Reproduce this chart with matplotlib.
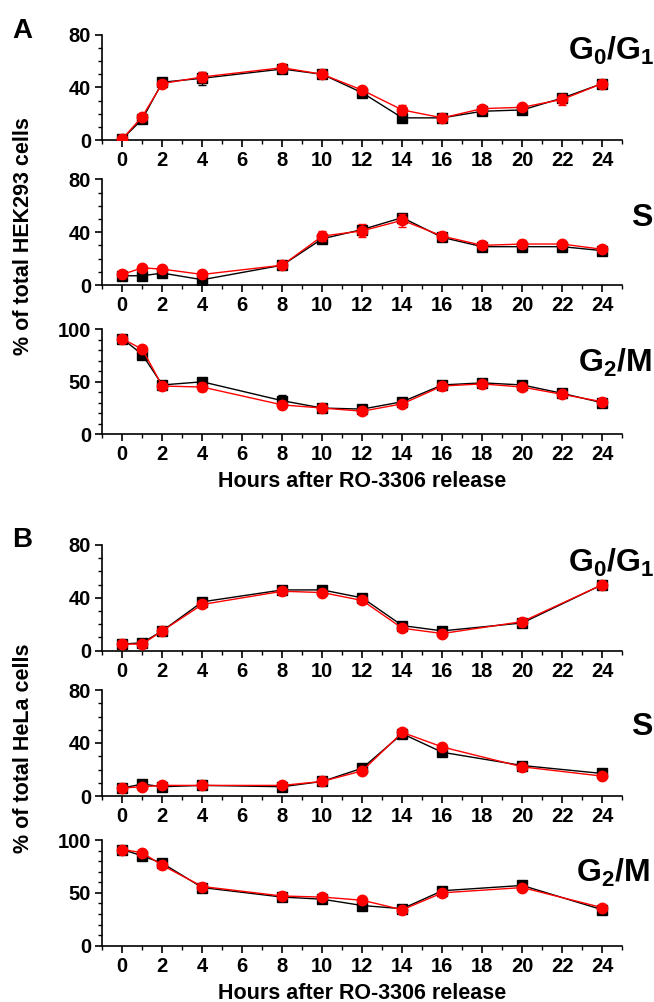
#!/usr/bin/env python3
"""Cell-cycle phase distribution after RO-3306 release (HEK293 and HeLa)."""

import matplotlib

matplotlib.use("Agg")
import matplotlib.pyplot as plt
from matplotlib.ticker import MultipleLocator

# ---- data ----
HOURS_A = [0, 1, 2, 4, 8, 10, 12, 14, 16, 18, 20, 22, 24]
HOURS_B = [0, 1, 2, 4, 8, 10, 12, 14, 16, 20, 24]

# Panel A: HEK293
A_G1_BLACK = [1, 16, 44, 47, 54, 50, 36, 17, 17, 22, 23, 32, 43]
A_G1_BLACK_ERR = [1, 2, 2, 5, 3, 1, 2, 3, 2, 2, 2, 3, 3]
A_G1_RED = [1, 18, 43, 48, 55, 50, 38, 23, 17, 24, 25, 31, 43]
A_G1_RED_ERR = [1, 2, 2, 4, 3, 2, 2, 4, 3, 2, 2, 4, 3]

A_S_BLACK = [7, 7, 9, 4, 15, 35, 42, 51, 36, 29, 29, 29, 26]
A_S_BLACK_ERR = [1, 1, 1, 1, 1, 3, 2, 2, 1, 3, 2, 1, 1]
A_S_RED = [8, 13, 12, 8, 15, 37, 41, 49, 37, 30, 31, 31, 27]
A_S_RED_ERR = [2, 2, 2, 2, 2, 4, 5, 5, 2, 3, 3, 2, 2]

A_G2_BLACK = [91, 76, 47, 50, 32, 25, 24, 31, 47, 49, 47, 39, 30]
A_G2_BLACK_ERR = [2, 2, 2, 3, 5, 2, 1, 2, 4, 2, 1, 2, 2]
A_G2_RED = [91, 81, 46, 45, 28, 25, 22, 29, 46, 48, 45, 38, 31]
A_G2_RED_ERR = [3, 2, 2, 4, 3, 3, 2, 2, 4, 2, 2, 2, 3]

# Panel B: HeLa
B_G1_BLACK = [5, 6, 15, 37, 46, 46, 40, 19, 15, 21, 50]
B_G1_BLACK_ERR = [1, 1, 1, 1, 1, 1, 1, 1, 1, 1, 1]
B_G1_RED = [5, 5, 15, 35, 45, 44, 38, 17, 13, 22, 50]
B_G1_RED_ERR = [1, 1, 1, 1, 1, 1, 1, 1, 1, 1, 1]

B_S_BLACK = [6, 9, 7, 8, 7, 11, 21, 47, 33, 23, 17]
B_S_BLACK_ERR = [1, 1, 1, 1, 1, 1, 1, 2, 1, 1, 1]
B_S_RED = [6, 7, 8, 8, 8, 11, 19, 48, 37, 22, 15]
B_S_RED_ERR = [1, 1, 1, 1, 1, 1, 1, 2, 1, 1, 1]

B_G2_BLACK = [91, 85, 78, 55, 46, 44, 38, 35, 52, 57, 34]
B_G2_BLACK_ERR = [1, 1, 1, 1, 1, 1, 1, 1, 1, 1, 1]
B_G2_RED = [91, 88, 76, 56, 47, 46, 43, 34, 50, 55, 36]
B_G2_RED_ERR = [1, 1, 1, 1, 1, 1, 1, 1, 1, 1, 1]

XLABEL = "Hours after RO-3306 release"

plt.rcParams["font.family"] = ["Liberation Sans", "DejaVu Sans"]
plt.rcParams["font.weight"] = "bold"
plt.rcParams["mathtext.fontset"] = "custom"
plt.rcParams["mathtext.rm"] = "Liberation Sans:bold"
plt.rcParams["mathtext.bf"] = "Liberation Sans:bold"
plt.rcParams["mathtext.it"] = "Liberation Sans:bold"

W, H = 654, 1002
fig = plt.figure(figsize=(W / 100, H / 100), dpi=100)


def add_axes(top_px, bottom_px):
    left, right = 102.3, 622.3
    return fig.add_axes([left / W, 1 - bottom_px / H, (right - left) / W, (bottom_px - top_px) / H])


def draw_panel(ax, hours, black, black_err, red, red_err, ymax, ystep):
    ax.errorbar(hours, black, yerr=black_err, color="black", marker="s", ms=7, lw=1.0,
                elinewidth=1.0, capsize=3, capthick=1.0, zorder=2)
    ax.errorbar(hours, red, yerr=red_err, color="#ff0000", marker="o", ms=7.5, lw=1.0,
                elinewidth=1.0, capsize=3, capthick=1.0, zorder=3)
    ax.set_xlim(-1, 25)
    ax.set_ylim(0, ymax)
    ax.xaxis.set_major_locator(MultipleLocator(2))
    ax.xaxis.set_minor_locator(MultipleLocator(1))
    ax.yaxis.set_major_locator(MultipleLocator(ystep))
    ax.yaxis.set_minor_locator(MultipleLocator(10))
    for side in ("top", "right"):
        ax.spines[side].set_visible(False)
    for side in ("left", "bottom"):
        ax.spines[side].set_linewidth(1.2)
    ax.tick_params(which="major", length=5, width=1.2, direction="out", pad=3, labelsize=14.5)
    ax.tick_params(which="minor", length=3, width=1.0, direction="out")
    for lab in ax.get_xticklabels() + ax.get_yticklabels():
        lab.set_fontweight("bold")


# Panel A
axA1 = add_axes(34.7, 140.3)
draw_panel(axA1, HOURS_A, A_G1_BLACK, A_G1_BLACK_ERR, A_G1_RED, A_G1_RED_ERR, 80, 40)
axA2 = add_axes(179.3, 285.0)
draw_panel(axA2, HOURS_A, A_S_BLACK, A_S_BLACK_ERR, A_S_RED, A_S_RED_ERR, 80, 40)
axA3 = add_axes(329.3, 434.3)
draw_panel(axA3, HOURS_A, A_G2_BLACK, A_G2_BLACK_ERR, A_G2_RED, A_G2_RED_ERR, 100, 50)
axA3.set_xlabel(XLABEL, fontsize=15.5, fontweight="bold", labelpad=5)

# Panel B
axB1 = add_axes(545.0, 650.7)
draw_panel(axB1, HOURS_B, B_G1_BLACK, B_G1_BLACK_ERR, B_G1_RED, B_G1_RED_ERR, 80, 40)
axB2 = add_axes(690.0, 796.0)
draw_panel(axB2, HOURS_B, B_S_BLACK, B_S_BLACK_ERR, B_S_RED, B_S_RED_ERR, 80, 40)
axB3 = add_axes(840.0, 945.7)
draw_panel(axB3, HOURS_B, B_G2_BLACK, B_G2_BLACK_ERR, B_G2_RED, B_G2_RED_ERR, 100, 50)
axB3.set_xlabel(XLABEL, fontsize=15.5, fontweight="bold", labelpad=5)

# phase labels
phase_kw = dict(fontsize=23, fontweight="bold", ha="right", va="baseline")
fig.text(654 / W, 1 - 60 / H, r"$\mathregular{G_0/G_1}$", **phase_kw)
fig.text(652 / W, 1 - 226 / H, "S", **phase_kw)
fig.text(652 / W, 1 - 372 / H, r"$\mathregular{G_2/M}$", **phase_kw)
fig.text(654 / W, 1 - 572 / H, r"$\mathregular{G_0/G_1}$", **phase_kw)
fig.text(652 / W, 1 - 735 / H, "S", **phase_kw)
fig.text(650 / W, 1 - 882 / H, r"$\mathregular{G_2/M}$", **phase_kw)

# y labels and panel letters
fig.text(24 / W, 1 - 236 / H, "% of total HEK293 cells", rotation=90, ha="center", va="center",
         fontsize=15.5, fontweight="bold")
fig.text(24 / W, 1 - 748 / H, "% of total HeLa cells", rotation=90, ha="center", va="center",
         fontsize=15.5, fontweight="bold")
fig.text(12 / W, 1 - 38 / H, "A", fontsize=20, fontweight="bold", ha="left", va="baseline")
fig.text(12 / W, 1 - 547 / H, "B", fontsize=20, fontweight="bold", ha="left", va="baseline")

fig.savefig("out.png", dpi=100)
